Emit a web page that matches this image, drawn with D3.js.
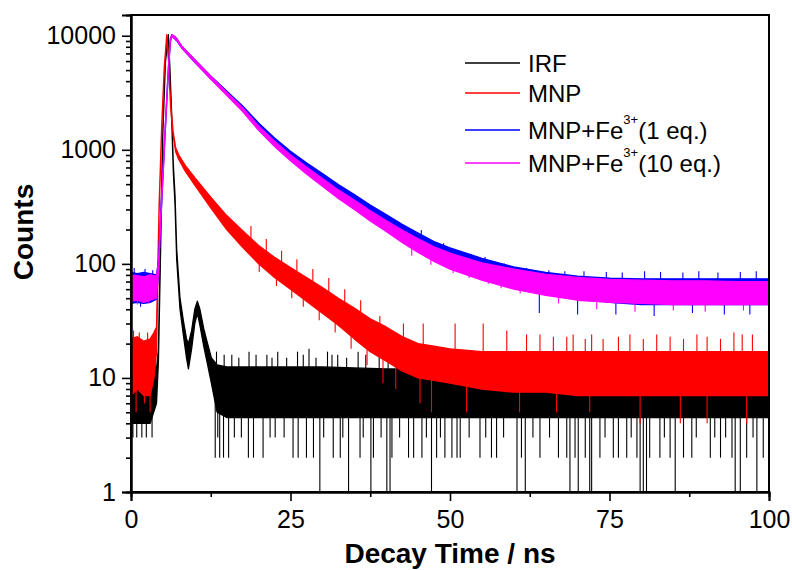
<!DOCTYPE html>
<html><head><meta charset="utf-8">
<script src="https://cdn.jsdelivr.net/npm/d3@7"></script>
<style>body{margin:0;background:#fff}</style>
</head><body>
<svg id="c" width="792" height="570"></svg>
<script>
// ---------- data ----------
const xTicks = [0, 25, 50, 75, 100];
const xMinorTicks = [12.5, 37.5, 62.5, 87.5];
const yTicks = [1, 10, 100, 1000, 10000];
const xDomain = [0, 100];
const yDomain = [1, 15200];

// IRF (black): noise band low / high edges
const irfT  = [0,1,2,3,4.0,4.3,4.6,5.0,5.4,5.85,6.1,6.4,6.63,6.9,7.16,7.68,8.2,8.7,9.0,9.5,10.0,10.4,10.8,11.4,11.9,12.6,13.5,15,20,25,30,40,50,60,70,80,90,100];
const irfLo = [4,4,4,4,6,14,100,1450,5900,9800,4800,1700,650,330,110,40,24,15,12,18,30,37,29,19,14,9,5,4.5,4.5,4.5,4.5,4.5,4.5,4.5,4.5,4.5,4.5,4.5];
const irfHi = [11,12,11,11,12,18,140,1550,6100,10200,5200,1900,750,400,135,50,32,22,20,26,40,47,40,27,21,15,13,12.5,12.5,12.5,12.5,12,12,11.5,11.5,11.5,11.5,11.5];
// IRF single-channel spikes (time, counts)
const irfSpikeT = [0.3,0.9,1.7,2.4,3.3, 13.2,13.6,13.9,14.5,15.3,16.2,17.3,18.4,19.2,20.7,21.8,22.6,24.0,25.4,26.2,27.5,28.6,29.6,30.2,31.7,32.8,33.2,34.1,35.9,36.4,37.6,38.0,39.2,40.1,40.6,40.9,42.1,43.5,44.3,45.6,46.3,47.1,47.9,48.5,49.2,50.3,51.1,51.6,53.0,54.7,55.6,56.5,57.3,58.4,60.5,61.2,61.8,63.0,64.1,65.6,67.0,68.3,68.8,69.6,70.1,71.2,71.9,72.2,73.5,74.3,75.6,76.4,77.7,78.4,79.3,79.8,80.3,80.8,81.3,82.9,83.6,84.5,85.3,86.6,87.9,88.6,90.8,91.5,92.4,93.2,94.2,94.7,95.5,96.5,97.5,98.1,99.1,
  0.6,2.0,3.8,13.4,14.6,15.8,16.9,18.5,19.6,21.3,22.1,23.0,24.4,26.1,27.0,27.9,29.0,30.8,31.5,32.4,33.8,35.6,36.8,38.9,40.3,41.7,43.0,44.3,46.1,48.8,52.5,55.9];
const irfSpikeV = [3,3,3,3,3, 2,3,2,2,2,3,3,2,2,2,3,3,3,2,2,2,2,1,3,2,2,3,1,2,3,1,2,3,1,1,2,3,2,2,2,3,1,2,3,2,2,2,2,3,2,3,2,2,3,1,2,1,3,2,3,2,2,1,2,1,2,1,1,2,3,2,2,2,3,2,1,1,1,2,2,3,2,1,2,2,3,2,3,2,3,2,1,1,2,3,1,2,
  13,14,13,17,16,16,15,17,16,16,15,17,15,17,16,18,15,17,16,16,15,17,16,16,15,16,15,16,15,15,14,14];

// MNP (red)
const redT  = [0,1,2,3,3.6,4.0,4.4,4.8,5.2,5.6,5.9,6.2,6.6,7.0,7.5,8.5,10,12.5,15,17.5,20,22.5,25,27.5,30,32.5,35,37.5,40,42.5,45,47.5,50,55,60,65,70,75,80,85,90,95,100];
const redLo = [7,8,7,7,10,17,280,1440,4850,9700,5800,2400,1350,960,820,650,490,310,200,140,100,76,60,47,37,29,22,17,14,11.5,10,9.5,9,8,7.5,7.5,7,7,7,7,7,7,7];
const redHi = [22,23,21,22,25,28,320,1560,5150,10200,6200,2600,1450,1040,900,730,570,385,265,195,145,114,93,76,62,50,41,33,28,23,20,19,18,17,17,17,17,17,17,17,17,17,17];
const redSpikeT = [0.4,1.3,2.6, 18.8,21.2,23.6,26.0,28.5,31.0,33.5,36.0,39.0,42.7,45.8,50.8,55.2,58.9,62.0,64.1,66.2,68.3,69.3,71.2,72.2,74.0,76.4,78.2,80.3,82.4,84.5,86.6,88.7,90.3,92.4,94.5,95.8,97.4,
  0.8,2.1,3.0, 20.1,22.8,25.2,27.0,29.5,32.0,34.5,37.0,39.5,41.5,45.3,47.1,52.6,60.9,66.7,71.9,79.8,86.1,90.3,96.5];
const redSpikeV = [26,25,25, 215,165,130,110,90,75,60,48,35,30,30,30,30,26,24,24,23,23,24,22,24,22,23,24,22,24,23,22,24,23,22,25,24,24,
  5,6,5, 85,64,50,42,32,25,18,13,9,8,6,5,5,5,5,5,4,4,4,4];

// MNP+Fe3+ (1 eq.) (blue) and (10 eq.) (magenta)
const feT = [0,1,2,3,4.0,4.3,4.8,5.2,5.6,5.9,6.2,6.4,6.7,7.2,8,10,12.5,15,17.5,20,22.5,25,27.5,30,32.5,35,37.5,40,42.5,45,47.5,50,55,60,65,70,75,80,85,90,95,100];
const blueLo = [45,46,45,46,49,85,340,950,2600,5450,9100,9800,9600,9000,7750,5850,4200,3050,2220,1550,1130,860,670,530,415,335,266,214,172,140,115,98,78,64,56,50,46,44,44,44,44,44];
const blueHi = [84,82,84,82,80,106,390,1050,2800,5750,9500,10200,10000,9400,8050,6150,4450,3280,2420,1720,1270,970,770,620,495,405,328,270,222,186,157,138,112,94,84,78,75,74,74,74,74,74];
const magLo = [47,48,46,48,50,85,340,950,2600,5450,9100,9800,9600,9000,7750,5850,4180,3000,2160,1480,1070,800,615,480,375,300,238,192,154,126,105,90,72,60,53,48,46,45,44,44,44,44];
const magHi = [80,79,77,80,78,104,390,1050,2800,5750,9500,10200,10000,9400,8050,6150,4420,3200,2340,1620,1190,900,705,560,445,362,292,240,198,166,141,124,102,90,81,76,73,72,71,71,70,70];
const blueSpikeT = [0.5,2.2,3.4, 42,45.5,49,52,55.5,58.5,62,65.5,68,71,74.5,77,80.5,83,86.5,89,92,95.5,98, 1.5,64,70,76,82,88,93,97];
const blueSpikeV = [92,90,88, 232,198,152,126,115,101,92,88,86,86,85,84,86,85,84,86,84,85,86, 42,37,36,36,35,37,36,36];
const magSpikeT = [1.0,2.8, 44,47,50.5,53,56,58,61,67,73,79,85,90,96];
const magSpikeV = [44,45, 118,98,83,75,67,61,55,45,40,38,39,38,39];

const legendLabels = ["IRF", "MNP", "MNP+Fe|3+|(1 eq.)", "MNP+Fe|3+|(10 eq.)"];
const colors = ["#000000", "#ff0000", "#0000ff", "#ff00ff"];

// ---------- layout ----------
const L = 131, R = 769, T = 15, B = 492;
const svg = d3.select("#c");
const x = d3.scaleLinear().domain(xDomain).range([L, R]);
const y = d3.scaleLog().domain(yDomain).range([B, T]);

const zip = (t, lo, hi) => t.map((d, i) => ({t: d, lo: lo[i], hi: hi[i]}));
const area = d3.area().x(d => x(d.t)).y0(d => y(d.lo)).y1(d => y(d.hi));

const g = svg.append("g");
function band(t, lo, hi, c) {
  g.append("path").datum(zip(t, lo, hi)).attr("d", area)
    .attr("fill", c).attr("stroke", c).attr("stroke-width", 1.3).attr("stroke-linejoin", "round");
}
// spike drawn from the band centre (interpolated in log space) to the spike value
function spikes(ts, vs, t, lo, hi, c) {
  const bis = d3.bisector(d => d).right;
  const mid = tt => {
    let i = Math.min(Math.max(bis(t, tt), 1), t.length - 1);
    const f = (tt - t[i - 1]) / (t[i] - t[i - 1]);
    const a = Math.log(lo[i - 1] * hi[i - 1]) / 2, b = Math.log(lo[i] * hi[i]) / 2;
    return Math.exp(a + (b - a) * f);
  };
  g.selectAll(null).data(ts.map((d, i) => ({t: d, v: vs[i]}))).enter().append("line")
    .attr("x1", d => x(d.t)).attr("x2", d => x(d.t))
    .attr("y1", d => y(mid(d.t))).attr("y2", d => y(d.v))
    .attr("stroke", c).attr("stroke-width", 1.1);
}
band(irfT, irfLo, irfHi, colors[0]);
spikes(irfSpikeT, irfSpikeV, irfT, irfLo, irfHi, colors[0]);
band(redT, redLo, redHi, colors[1]);
spikes(redSpikeT, redSpikeV, redT, redLo, redHi, colors[1]);
band(feT, blueLo, blueHi, colors[2]);
spikes(blueSpikeT, blueSpikeV, feT, blueLo, blueHi, colors[2]);
band(feT, magLo, magHi, colors[3]);
spikes(magSpikeT, magSpikeV, feT, magLo, magHi, colors[3]);

// ---------- frame & axes ----------
svg.append("rect").attr("x", L).attr("y", T).attr("width", R - L).attr("height", B - T)
  .attr("fill", "none").attr("stroke", "#000").attr("stroke-width", 2);

const font = "'Liberation Sans', Arial, sans-serif";
const yMinor = [];
for (let e = 0; e < 5; e++) for (let k = 2; k <= 9; k++) { const v = k * Math.pow(10, e); if (v <= yDomain[1]) yMinor.push(v); }

const ya = svg.append("g").attr("transform", `translate(${L},0)`)
  .call(d3.axisLeft(y).tickValues(yTicks).tickFormat(d3.format("d")).tickSize(9).tickPadding(6));
const yam = svg.append("g").attr("transform", `translate(${L},0)`)
  .call(d3.axisLeft(y).tickValues(yMinor).tickFormat("").tickSize(5));
const xa = svg.append("g").attr("transform", `translate(0,${B})`)
  .call(d3.axisBottom(x).tickValues(xTicks).tickFormat(d3.format("d")).tickSize(9).tickPadding(9));
const xam = svg.append("g").attr("transform", `translate(0,${B})`)
  .call(d3.axisBottom(x).tickValues(xMinorTicks).tickFormat("").tickSize(5));
[ya, yam, xa, xam].forEach(a => {
  a.select(".domain").attr("stroke-width", 2);
  a.selectAll(".tick line").attr("stroke-width", 1.6);
  a.selectAll("text").attr("font-family", font).attr("font-size", 25).attr("fill", "#000");
});

// axis titles
svg.append("text").attr("x", 450).attr("y", 563).attr("text-anchor", "middle")
  .attr("font-family", font).attr("font-weight", "bold").attr("font-size", 28).text("Decay Time / ns");
svg.append("text").attr("transform", "translate(33,232) rotate(-90)").attr("text-anchor", "middle")
  .attr("font-family", font).attr("font-weight", "bold").attr("font-size", 28).text("Counts");

// legend
const legY = [63, 93, 130, 163];
legendLabels.forEach((lab, i) => {
  svg.append("line").attr("x1", 465).attr("x2", 520).attr("y1", legY[i]).attr("y2", legY[i])
    .attr("stroke", colors[i]).attr("stroke-width", 1.6);
  const parts = lab.split("|");
  const tx = svg.append("text").attr("x", 528).attr("y", legY[i] + 8.6)
    .attr("font-family", font).attr("font-size", 24).attr("fill", "#000");
  tx.append("tspan").text(parts[0]);
  if (parts.length > 1) {
    tx.append("tspan").attr("font-size", 13).attr("dy", -15).text(parts[1]);
    tx.append("tspan").attr("dy", 15).text(parts[2]);
  }
});
</script>
</body></html>
